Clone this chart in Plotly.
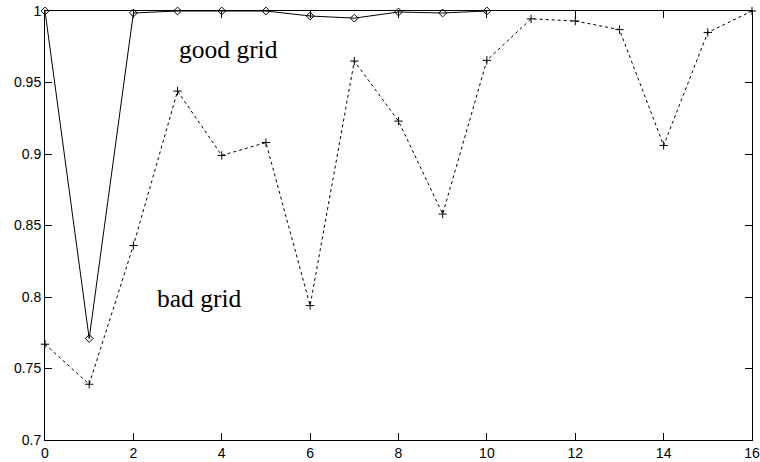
import plotly.graph_objects as go

# good grid (diamonds), iterations 0..10
good_x = [0, 1, 2, 3, 4, 5, 6, 7, 8, 9, 10]
good_y = [1.0, 0.771, 0.9986, 1.0, 1.0, 1.0, 0.9965, 0.995, 0.9993, 0.9986, 1.0]

# bad grid (crosses), iterations 0..16
bad_x = list(range(17))
bad_y = [0.767, 0.739, 0.836, 0.944, 0.899, 0.908, 0.794, 0.965, 0.923, 0.858,
         0.9655, 0.9945, 0.993, 0.987, 0.906, 0.985, 1.0]

x_ticks = [0, 2, 4, 6, 8, 10, 12, 14, 16]
y_ticks = [0.7, 0.75, 0.8, 0.85, 0.9, 0.95, 1.0]
y_ticktext = ["0.7", "0.75", "0.8", "0.85", "0.9", "0.95", "1"]

labels = [("good grid", 4.15, 0.973), ("bad grid", 3.5, 0.799)]

fig = go.Figure()
fig.add_trace(go.Scatter(
    x=good_x, y=good_y, mode="lines+markers",
    line=dict(color="black", width=1),
    marker=dict(symbol="diamond-open", size=6, color="black", line=dict(width=1)),
    cliponaxis=False, showlegend=False))
fig.add_trace(go.Scatter(
    x=bad_x, y=bad_y, mode="lines+markers",
    line=dict(color="black", width=1, dash="3px,3px"),
    marker=dict(symbol="cross-thin-open", size=6, color="black", line=dict(width=1, color="black")),
    cliponaxis=False, showlegend=False))

for txt, x, y in labels:
    fig.add_annotation(x=x, y=y, text=txt, showarrow=False,
                       font=dict(family="Liberation Serif", size=25.5, color="black"))

axis_common = dict(showline=True, linecolor="black", linewidth=1, mirror="ticks",
                   ticks="inside", ticklen=7, tickcolor="black", tickwidth=1,
                   showgrid=False, zeroline=False, automargin=False,
                   tickfont=dict(family="Liberation Sans", size=14, color="black"))

fig.update_xaxes(range=[0, 16], tickvals=x_ticks, **axis_common)
fig.update_yaxes(range=[0.7, 1.0], tickvals=y_ticks, ticktext=y_ticktext, **axis_common)

fig.update_layout(width=760, height=462, plot_bgcolor="white", paper_bgcolor="white",
                  margin=dict(l=45, r=8, t=11, b=22))

# page body has a default 8px margin; remove it so the figure sits at the window corner
fig.write_html("out.html", config={"displayModeBar": False},
               post_script="document.body.style.margin='0';")
